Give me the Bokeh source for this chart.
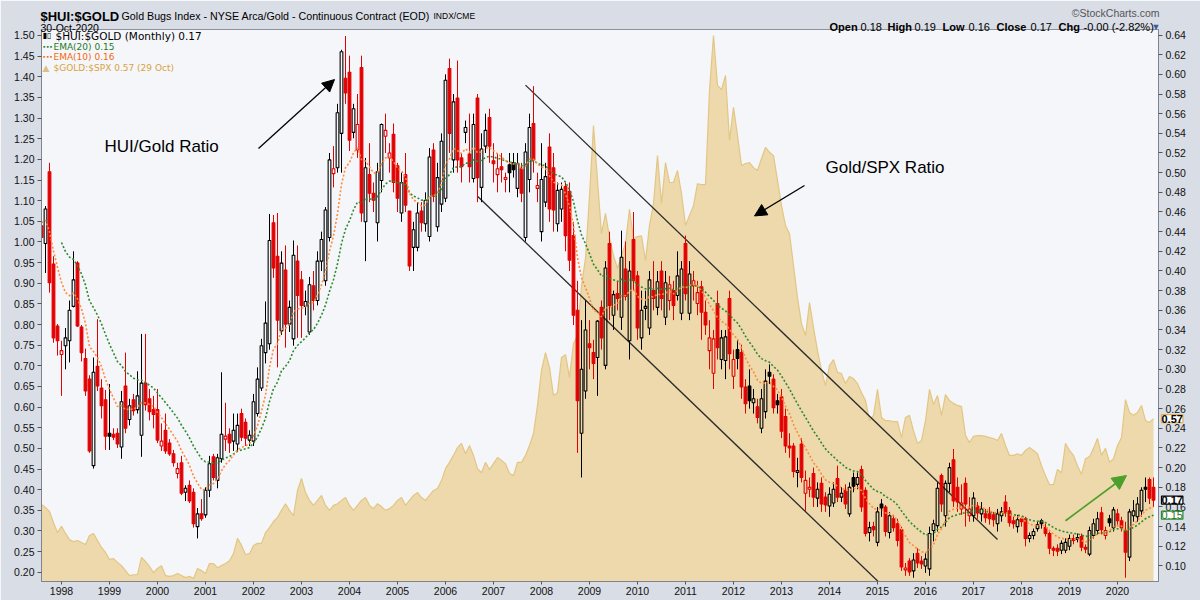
import pandas as pd
from bokeh.plotting import figure
from bokeh.models import (Range1d, LinearAxis, FixedTicker, PrintfTickFormatter, Label,
                          Arrow, NormalHead, ColumnDataSource)
from bokeh.embed import file_html
from bokeh.resources import INLINE

# ---------------- data (monthly, Aug 1997 .. Oct 2020) ----------------
first_month = "1997-08"
close_before_first = 0.450   # Jul 1997 close (estimated)

hui_open = [
    0.446, 0.428, 0.501, 0.407, 0.344,
    0.315, 0.324, 0.329, 0.364, 0.408, 0.343, 0.311, 0.290, 0.202, 0.303, 0.281, 0.269,
    0.235, 0.234, 0.235, 0.221, 0.283, 0.249, 0.269, 0.259, 0.233, 0.286, 0.270, 0.259,
    0.259, 0.222, 0.238, 0.225, 0.214, 0.194, 0.205, 0.175, 0.182, 0.175, 0.140, 0.153,
    0.152, 0.177, 0.211, 0.187, 0.209, 0.229, 0.234, 0.227, 0.224, 0.255, 0.246, 0.228,
    0.227, 0.255, 0.281, 0.317, 0.326, 0.449, 0.415, 0.339, 0.401, 0.346, 0.331, 0.410,
    0.391, 0.364, 0.338, 0.385, 0.370, 0.410, 0.390, 0.434, 0.499, 0.505, 0.540, 0.596,
    0.602, 0.541, 0.523, 0.607, 0.450, 0.498, 0.479, 0.449, 0.492, 0.537, 0.515, 0.539,
    0.507, 0.459, 0.498, 0.461, 0.424, 0.424, 0.461, 0.448, 0.435, 0.523, 0.445, 0.468,
    0.474, 0.606, 0.513, 0.576, 0.515, 0.541, 0.519, 0.494, 0.576, 0.485, 0.527, 0.556,
    0.512, 0.498, 0.506, 0.493, 0.508, 0.510, 0.484, 0.504, 0.434, 0.493, 0.550, 0.484,
    0.440, 0.470, 0.526, 0.505, 0.448, 0.463, 0.486, 0.481, 0.436, 0.360, 0.235, 0.278,
    0.326, 0.317, 0.312, 0.363, 0.304, 0.428, 0.355, 0.377, 0.353, 0.402, 0.329, 0.432,
    0.395, 0.332, 0.362, 0.342, 0.380, 0.363, 0.400, 0.353, 0.370, 0.380, 0.375, 0.357,
    0.428, 0.357, 0.385, 0.367, 0.384, 0.358, 0.319, 0.296, 0.367, 0.310, 0.309, 0.372,
    0.293, 0.320, 0.317, 0.282, 0.283, 0.266, 0.262, 0.240, 0.257, 0.297, 0.290, 0.268,
    0.272, 0.252, 0.222, 0.222, 0.195, 0.224, 0.174, 0.178, 0.194, 0.169, 0.184, 0.170,
    0.161, 0.164, 0.189, 0.170, 0.177, 0.153, 0.190, 0.183, 0.198, 0.177, 0.134, 0.140,
    0.124, 0.163, 0.160, 0.134, 0.148, 0.143, 0.137, 0.096, 0.105, 0.095, 0.113, 0.105,
    0.100, 0.097, 0.136, 0.141, 0.192, 0.151, 0.184, 0.208, 0.180, 0.158, 0.184, 0.151,
    0.151, 0.161, 0.153, 0.153, 0.153, 0.152, 0.143, 0.151, 0.165, 0.156, 0.146, 0.140,
    0.148, 0.148, 0.128, 0.131, 0.138, 0.146, 0.139, 0.133, 0.118, 0.118, 0.116, 0.116,
    0.120, 0.128, 0.127, 0.130, 0.119, 0.112, 0.131, 0.136, 0.154, 0.131, 0.148, 0.139,
    0.153, 0.146, 0.136, 0.109, 0.151, 0.150, 0.156, 0.180, 0.188, 0.180,
]
hui_high = [
    0.456, 0.466, 0.510, 0.415, 0.346,
    0.329, 0.342, 0.370, 0.420, 0.410, 0.345, 0.321, 0.294, 0.312, 0.351, 0.290, 0.279,
    0.285, 0.240, 0.240, 0.278, 0.317, 0.270, 0.275, 0.298, 0.336, 0.336, 0.280, 0.273,
    0.280, 0.245, 0.255, 0.229, 0.218, 0.205, 0.212, 0.182, 0.187, 0.179, 0.159, 0.168,
    0.180, 0.212, 0.214, 0.214, 0.297, 0.266, 0.240, 0.255, 0.255, 0.260, 0.250, 0.238,
    0.275, 0.302, 0.331, 0.369, 0.458, 0.457, 0.459, 0.420, 0.426, 0.370, 0.431, 0.426,
    0.400, 0.380, 0.394, 0.400, 0.420, 0.440, 0.465, 0.520, 0.527, 0.570, 0.625, 0.639,
    0.619, 0.570, 0.580, 0.619, 0.515, 0.530, 0.490, 0.510, 0.550, 0.560, 0.530, 0.550,
    0.510, 0.500, 0.520, 0.461, 0.450, 0.470, 0.470, 0.480, 0.525, 0.530, 0.510, 0.540,
    0.600, 0.616, 0.580, 0.614, 0.520, 0.553, 0.560, 0.560, 0.580, 0.540, 0.560, 0.565,
    0.530, 0.520, 0.520, 0.500, 0.520, 0.520, 0.520, 0.510, 0.530, 0.560, 0.588, 0.500,
    0.530, 0.510, 0.540, 0.520, 0.490, 0.490, 0.490, 0.490, 0.450, 0.390, 0.350, 0.370,
    0.350, 0.330, 0.350, 0.370, 0.410, 0.440, 0.380, 0.390, 0.441, 0.430, 0.410, 0.460,
    0.400, 0.380, 0.380, 0.400, 0.410, 0.400, 0.410, 0.400, 0.395, 0.390, 0.420, 0.410,
    0.436, 0.410, 0.400, 0.390, 0.390, 0.370, 0.350, 0.340, 0.380, 0.340, 0.340, 0.380,
    0.320, 0.330, 0.325, 0.290, 0.300, 0.280, 0.270, 0.280, 0.300, 0.305, 0.295, 0.275,
    0.280, 0.260, 0.235, 0.225, 0.210, 0.230, 0.197, 0.190, 0.200, 0.185, 0.190, 0.175,
    0.180, 0.185, 0.202, 0.180, 0.183, 0.185, 0.195, 0.195, 0.202, 0.180, 0.145, 0.145,
    0.160, 0.168, 0.162, 0.155, 0.152, 0.148, 0.140, 0.103, 0.108, 0.113, 0.118, 0.110,
    0.113, 0.140, 0.147, 0.185, 0.194, 0.187, 0.205, 0.219, 0.190, 0.183, 0.190, 0.170,
    0.175, 0.165, 0.165, 0.158, 0.160, 0.155, 0.158, 0.160, 0.172, 0.160, 0.150, 0.152,
    0.150, 0.150, 0.134, 0.138, 0.145, 0.148, 0.143, 0.135, 0.120, 0.122, 0.126, 0.128,
    0.132, 0.132, 0.133, 0.133, 0.122, 0.140, 0.148, 0.155, 0.160, 0.140, 0.152, 0.160,
    0.158, 0.150, 0.145, 0.158, 0.167, 0.170, 0.180, 0.190, 0.190, 0.190,
]
hui_low = [
    0.428, 0.398, 0.378, 0.327, 0.314,
    0.273, 0.300, 0.307, 0.363, 0.343, 0.308, 0.273, 0.215, 0.199, 0.278, 0.250, 0.218,
    0.218, 0.228, 0.220, 0.209, 0.235, 0.243, 0.253, 0.255, 0.211, 0.258, 0.248, 0.240,
    0.225, 0.217, 0.214, 0.212, 0.201, 0.189, 0.172, 0.166, 0.164, 0.139, 0.128, 0.146,
    0.149, 0.170, 0.187, 0.179, 0.205, 0.217, 0.215, 0.217, 0.217, 0.227, 0.222, 0.222,
    0.222, 0.252, 0.278, 0.306, 0.320, 0.393, 0.302, 0.335, 0.322, 0.338, 0.324, 0.332,
    0.332, 0.355, 0.335, 0.360, 0.365, 0.400, 0.385, 0.430, 0.485, 0.500, 0.500, 0.570,
    0.522, 0.535, 0.515, 0.450, 0.410, 0.470, 0.460, 0.430, 0.480, 0.520, 0.500, 0.480,
    0.460, 0.450, 0.460, 0.400, 0.400, 0.420, 0.440, 0.440, 0.430, 0.470, 0.440, 0.460,
    0.470, 0.520, 0.500, 0.500, 0.490, 0.530, 0.490, 0.490, 0.470, 0.470, 0.520, 0.510,
    0.490, 0.480, 0.490, 0.480, 0.480, 0.495, 0.475, 0.470, 0.430, 0.480, 0.500, 0.470,
    0.430, 0.465, 0.450, 0.440, 0.440, 0.450, 0.420, 0.400, 0.345, 0.215, 0.190, 0.270,
    0.300, 0.290, 0.273, 0.320, 0.300, 0.350, 0.340, 0.360, 0.340, 0.370, 0.310, 0.380,
    0.330, 0.320, 0.350, 0.335, 0.360, 0.355, 0.360, 0.345, 0.360, 0.350, 0.370, 0.350,
    0.370, 0.350, 0.370, 0.355, 0.330, 0.335, 0.300, 0.280, 0.310, 0.300, 0.290, 0.300,
    0.280, 0.300, 0.270, 0.255, 0.260, 0.255, 0.245, 0.235, 0.250, 0.285, 0.255, 0.255,
    0.230, 0.215, 0.210, 0.190, 0.180, 0.185, 0.156, 0.170, 0.160, 0.160, 0.155, 0.155,
    0.150, 0.160, 0.165, 0.165, 0.158, 0.150, 0.175, 0.178, 0.155, 0.130, 0.125, 0.130,
    0.120, 0.150, 0.130, 0.128, 0.135, 0.120, 0.095, 0.090, 0.090, 0.088, 0.098, 0.097,
    0.093, 0.090, 0.125, 0.135, 0.155, 0.140, 0.175, 0.160, 0.155, 0.152, 0.140, 0.145,
    0.145, 0.148, 0.145, 0.144, 0.142, 0.140, 0.135, 0.145, 0.150, 0.140, 0.138, 0.134,
    0.140, 0.120, 0.124, 0.127, 0.135, 0.138, 0.130, 0.112, 0.110, 0.110, 0.112, 0.113,
    0.116, 0.122, 0.124, 0.115, 0.113, 0.110, 0.128, 0.132, 0.132, 0.127, 0.140, 0.135,
    0.142, 0.135, 0.088, 0.105, 0.145, 0.145, 0.150, 0.165, 0.163, 0.160,
]
hui_close = [
    0.434, 0.463, 0.388, 0.332, 0.329,
    0.319, 0.332, 0.360, 0.391, 0.344, 0.317, 0.278, 0.217, 0.297, 0.283, 0.263, 0.232,
    0.232, 0.231, 0.224, 0.267, 0.240, 0.263, 0.258, 0.273, 0.286, 0.264, 0.257, 0.254,
    0.228, 0.227, 0.217, 0.214, 0.205, 0.199, 0.174, 0.179, 0.166, 0.143, 0.153, 0.148,
    0.177, 0.204, 0.190, 0.210, 0.234, 0.232, 0.225, 0.238, 0.243, 0.231, 0.230, 0.233,
    0.267, 0.290, 0.324, 0.347, 0.431, 0.403, 0.350, 0.408, 0.346, 0.363, 0.416, 0.375,
    0.365, 0.369, 0.386, 0.370, 0.410, 0.432, 0.462, 0.513, 0.504, 0.561, 0.623, 0.581,
    0.533, 0.565, 0.549, 0.459, 0.505, 0.479, 0.472, 0.501, 0.549, 0.543, 0.520, 0.490,
    0.474, 0.490, 0.467, 0.405, 0.442, 0.459, 0.449, 0.472, 0.516, 0.476, 0.495, 0.532,
    0.594, 0.540, 0.572, 0.513, 0.506, 0.546, 0.506, 0.549, 0.495, 0.524, 0.543, 0.527,
    0.509, 0.504, 0.503, 0.495, 0.500, 0.503, 0.509, 0.479, 0.521, 0.546, 0.513, 0.487,
    0.493, 0.496, 0.463, 0.462, 0.482, 0.483, 0.436, 0.411, 0.355, 0.268, 0.300, 0.340,
    0.322, 0.306, 0.349, 0.332, 0.403, 0.365, 0.376, 0.372, 0.414, 0.374, 0.400, 0.390,
    0.342, 0.360, 0.364, 0.391, 0.372, 0.389, 0.372, 0.388, 0.386, 0.365, 0.395, 0.402,
    0.377, 0.397, 0.390, 0.378, 0.358, 0.345, 0.332, 0.331, 0.322, 0.332, 0.333, 0.316,
    0.310, 0.311, 0.282, 0.265, 0.268, 0.270, 0.251, 0.270, 0.288, 0.293, 0.261, 0.264,
    0.237, 0.222, 0.220, 0.196, 0.197, 0.190, 0.187, 0.180, 0.170, 0.178, 0.163, 0.162,
    0.173, 0.178, 0.170, 0.174, 0.163, 0.180, 0.181, 0.190, 0.160, 0.133, 0.139, 0.137,
    0.155, 0.159, 0.135, 0.151, 0.139, 0.126, 0.099, 0.098, 0.094, 0.106, 0.103, 0.102,
    0.107, 0.133, 0.143, 0.179, 0.163, 0.184, 0.200, 0.166, 0.165, 0.164, 0.163, 0.158,
    0.169, 0.154, 0.158, 0.149, 0.148, 0.147, 0.153, 0.155, 0.154, 0.144, 0.143, 0.147,
    0.145, 0.128, 0.131, 0.135, 0.142, 0.143, 0.133, 0.118, 0.116, 0.115, 0.123, 0.124,
    0.128, 0.126, 0.129, 0.119, 0.117, 0.136, 0.143, 0.148, 0.137, 0.136, 0.144, 0.157,
    0.146, 0.139, 0.114, 0.155, 0.156, 0.163, 0.177, 0.178, 0.169, 0.167,
]
gold_spx = [
    0.364, 0.357, 0.347, 0.320, 0.296,
    0.311, 0.294, 0.279, 0.274, 0.277, 0.272, 0.267, 0.289, 0.294, 0.277, 0.260, 0.248,
    0.231, 0.233, 0.224, 0.216, 0.204, 0.192, 0.194, 0.194, 0.236, 0.226, 0.214, 0.199,
    0.209, 0.216, 0.192, 0.190, 0.192, 0.197, 0.192, 0.187, 0.190, 0.185, 0.209, 0.204,
    0.197, 0.221, 0.221, 0.211, 0.216, 0.221, 0.228, 0.245, 0.282, 0.265, 0.243, 0.245,
    0.265, 0.270, 0.270, 0.296, 0.308, 0.323, 0.333, 0.350, 0.366, 0.350, 0.337, 0.398,
    0.427, 0.393, 0.374, 0.362, 0.374, 0.386, 0.362, 0.350, 0.362, 0.366, 0.374, 0.381,
    0.362, 0.350, 0.362, 0.374, 0.381, 0.362, 0.354, 0.366, 0.359, 0.350, 0.354, 0.362,
    0.374, 0.381, 0.362, 0.374, 0.386, 0.393, 0.381, 0.374, 0.386, 0.398, 0.403, 0.422,
    0.451, 0.466, 0.483, 0.502, 0.512, 0.487, 0.507, 0.483, 0.451, 0.441, 0.466, 0.449,
    0.463, 0.478, 0.471, 0.463, 0.439, 0.434, 0.466, 0.466, 0.483, 0.507, 0.536, 0.604,
    0.689, 0.732, 0.696, 0.628, 0.635, 0.720, 0.727, 0.672, 0.754, 0.773, 0.894, 0.960,
    1.112, 1.282, 1.149, 1.020, 1.069, 1.011, 0.967, 0.936, 0.967, 0.996, 1.079, 1.008,
    1.013, 1.015, 0.955, 1.040, 1.093, 1.209, 1.093, 1.192, 1.144, 1.144, 1.173, 1.117,
    1.040, 1.064, 1.088, 1.141, 1.139, 1.139, 1.367, 1.500, 1.379, 1.369, 1.403, 1.246,
    1.326, 1.258, 1.185, 1.190, 1.192, 1.180, 1.173, 1.202, 1.229, 1.217, 1.209, 1.149,
    1.088, 1.040, 1.020, 0.943, 0.865, 0.802, 0.773, 0.853, 0.793, 0.737, 0.689, 0.652,
    0.701, 0.715, 0.684, 0.681, 0.657, 0.674, 0.669, 0.657, 0.635, 0.616, 0.567, 0.580,
    0.643, 0.575, 0.567, 0.567, 0.565, 0.565, 0.526, 0.575, 0.580, 0.543, 0.512, 0.519,
    0.567, 0.643, 0.606, 0.628, 0.580, 0.630, 0.616, 0.609, 0.604, 0.601, 0.531, 0.514,
    0.529, 0.531, 0.531, 0.529, 0.526, 0.524, 0.519, 0.536, 0.507, 0.483, 0.483, 0.487,
    0.483, 0.495, 0.502, 0.495, 0.487, 0.458, 0.434, 0.412, 0.412, 0.449, 0.441, 0.512,
    0.495, 0.483, 0.458, 0.437, 0.475, 0.480, 0.500, 0.524, 0.483, 0.500, 0.466, 0.475,
    0.507, 0.526, 0.618, 0.587, 0.580, 0.587, 0.604, 0.567, 0.563, 0.572,
]
ema20_start_month, ema20_start_value = "1998-01", 0.429
ema10_start_month, ema10_start_value = "1997-08", 0.449

year_labels = ["1998", "1999", "2000", "2001", "2002", "2003", "2004", "2005", "2006", "2007",
               "2008", "2009", "2010", "2011", "2012", "2013", "2014", "2015", "2016", "2017",
               "2018", "2019", "2020"]
left_ticks = [0.20, 0.25, 0.30, 0.35, 0.40, 0.45, 0.50, 0.55, 0.60, 0.65, 0.70, 0.75, 0.80, 0.85,
              0.90, 0.95, 1.00, 1.05, 1.10, 1.15, 1.20, 1.25, 1.30, 1.35, 1.40, 1.45, 1.50]
right_ticks = [0.10, 0.12, 0.14, 0.16, 0.18, 0.20, 0.22, 0.24, 0.26, 0.28, 0.30, 0.32, 0.34, 0.36,
               0.38, 0.40, 0.42, 0.44, 0.46, 0.48, 0.50, 0.52, 0.54, 0.56, 0.58, 0.60, 0.62, 0.64]

# channel lines (month, HUI:GOLD value)
channel_upper = [("2007-09", 0.589), ("2017-07", 0.127)]
channel_lower = [("2006-09", 0.476), ("2015-03", 0.077)]

# ---------------- helpers ----------------
def mpos(label):
    per = pd.Period(label, freq="M")
    return (per.year - 1998) * 12 + (per.month - 1)

months = pd.period_range(first_month, periods=len(hui_close), freq="M")
x = [(m.year - 1998) * 12 + (m.month - 1) for m in months]

RED, BLACK = "#E30000", "#000000"
colors, fills, tops, bots = [], [], [], []
prev = close_before_first
for o, c in zip(hui_open, hui_close):
    colors.append(RED if c < prev else BLACK)
    fills.append(1.0 if c < o else 0.0)
    tops.append(max(o, c))
    bots.append(min(o, c))
    prev = c

src = ColumnDataSource(dict(x=x, o=hui_open, h=hui_high, l=hui_low, c=hui_close,
                            top=tops, bot=bots, col=colors, fa=fills))

def ema(vals, n, seed):
    a = 2.0 / (n + 1)
    out = [seed]
    for v in vals[1:]:
        out.append(out[-1] + a * (v - out[-1]))
    return out

s20 = x.index(mpos(ema20_start_month))
s10 = x.index(mpos(ema10_start_month))
ema20 = ema(hui_close[s20:], 20, ema20_start_value)
ema10 = ema(hui_close[s10:], 10, ema10_start_value)

BG_OUT = "#D9DDE6"

# ---------------- main figure ----------------
LEFT, TOP = 41, 29
FW, FH = 1117, 552
XR = Range1d(-5, 274.25)
YR = Range1d(0.0842, 0.6456)
p = figure(frame_width=FW, frame_height=FH, output_backend="svg", toolbar_location=None,
           x_range=XR, y_range=YR, y_axis_location="right",
           min_border_left=LEFT, min_border_right=42, min_border_top=TOP, min_border_bottom=19,
           background_fill_color="#F5F6FA", border_fill_color=BG_OUT,
           outline_line_color="#8C919B")
p.extra_y_ranges = {"gs": Range1d(0.1776, 1.5145)}
p.grid.visible = False
right_ax = p.yaxis[0]

# gold/spx area
p.varea(x=x, y1=[0.0] * len(x), y2=gold_spx, y_range_name="gs",
        fill_color="#EDD9AB", fill_alpha=1.0)
p.line(x=x, y=gold_spx, y_range_name="gs", line_color="#E3C684", line_width=1.2)

# channel lines
for seg in (channel_upper, channel_lower):
    p.line(x=[mpos(seg[0][0]), mpos(seg[1][0])], y=[seg[0][1], seg[1][1]],
           line_color="#2B2B2B", line_width=1.3)

# candles
p.segment(x0="x", y0="h", x1="x", y1="top", color="col", line_width=1, source=src)
p.segment(x0="x", y0="bot", x1="x", y1="l", color="col", line_width=1, source=src)
p.vbar(x="x", top="top", bottom="bot", width=0.68, fill_color="col", fill_alpha="fa",
       line_color="col", line_width=1.1, source=src)

# EMAs
p.line(x=x[s20:], y=ema20, line_color="#2F8A2F", line_width=1.6, line_dash="2 2")
p.line(x=x[s10:], y=ema10, line_color="#FF8A3A", line_width=1.6, line_dash="2 2")

# axes
right_ax.ticker = FixedTicker(ticks=right_ticks)
left_ax = LinearAxis(y_range_name="gs", ticker=FixedTicker(ticks=left_ticks))
p.add_layout(left_ax, "left")
for ax in (right_ax, left_ax):
    ax.formatter = PrintfTickFormatter(format="%.2f")
for ax in [right_ax, left_ax] + list(p.xaxis):
    ax.major_label_text_font = "Liberation Sans"
    ax.major_label_text_font_size = "10.5px"
    ax.major_label_text_color = "#111111"
    ax.axis_line_color = "#7E838D"
    ax.major_tick_line_color = "#555555"
    ax.major_tick_in = 0
    ax.major_tick_out = 4
    ax.minor_tick_in = 0
    ax.minor_tick_out = 0
    ax.major_label_standoff = 3
p.xaxis.ticker = FixedTicker(ticks=[mpos(y + "-01") for y in year_labels])
p.xaxis.major_label_overrides = {mpos(y + "-01"): y for y in year_labels}
p.xaxis.major_tick_out = 3
p.xaxis.major_label_standoff = 2

# annotations inside chart
p.add_layout(Label(x=mpos("1998-12") - 0.25, y=0.5265, text="HUI/Gold Ratio",
                   text_font="Liberation Sans", text_font_size="17px", text_baseline="middle",
                   text_color="#000000"))
p.add_layout(Label(x=mpos("2013-12"), y=0.505, text="Gold/SPX Ratio",
                   text_font="Liberation Sans", text_font_size="17px", text_baseline="middle",
                   text_color="#000000"))
p.add_layout(Arrow(end=NormalHead(size=12, fill_color="black", line_color="black"),
                   x_start=mpos("2002-02") + 0.25, y_start=0.5245,
                   x_end=mpos("2003-09") + 0.25, y_end=0.5947,
                   line_color="black", line_width=1.3))
p.add_layout(Arrow(end=NormalHead(size=12, fill_color="black", line_color="black"),
                   x_start=mpos("2013-07") - 0.25, y_start=0.487,
                   x_end=mpos("2012-06") + 0.25, y_end=0.456,
                   line_color="black", line_width=1.3))
p.add_layout(Arrow(end=NormalHead(size=14, fill_color="#4C9F2A", line_color="#4C9F2A"),
                   x_start=mpos("2018-12"), y_start=0.146,
                   x_end=mpos("2020-03") + 0.25, y_end=0.192,
                   line_color="#4C9F2A", line_width=1.6))

# value markers on the right axis strip (placed in the right side panel)
def marker(val, rng, text_color, border, bold):
    kw = dict(x=275, y=val, text="%.2f" % val,
              text_font="Liberation Sans", text_font_size="11px",
              text_font_style="bold" if bold else "normal", text_baseline="middle",
              text_color=text_color, background_fill_color="#FFFFFF",
              border_line_color=border, border_line_width=1.2)
    if rng:
        kw["y_range_name"] = rng
    p.add_layout(Label(**kw), "right")

marker(gold_spx[-1], "gs", "#000000", "#E0B050", True)
marker(ema20[-1], None, "#1F7A1F", "#2F8A2F", False)
marker(hui_close[-1], None, "#000000", "#000000", True)

# ---- header (labels kept in the right side panel so they are not clipped;
#      page pixel -> plot coordinates) ----
def hx(px):
    return XR.start + (px - LEFT) * (XR.end - XR.start) / FW

def hy(py):
    return YR.end + (TOP - py) * (YR.end - YR.start) / FH

def ht(text, px, py, size="11px", style="normal", color="#000000", align="left"):
    p.add_layout(Label(x=hx(px), y=hy(py), text=text, text_font="Liberation Sans",
                       text_font_size=size, text_font_style=style, text_color=color,
                       text_align=align, text_baseline="alphabetic"), "right")

ht("$HUI:$GOLD", 40, 15.5, size="13px", style="bold")
ht("Gold Bugs Index - NYSE Arca/Gold - Continuous Contract (EOD)", 121, 15, size="10.7px")
ht("INDX/CME", 433, 15, size="8.5px")
ht("30-Oct-2020", 40, 27, size="10.5px")
ht("\u00a9StockCharts.com", 1159, 12.5, size="10.5px", color="#555555", align="right")
ohlc_items = [("Open", 829, "bold"), ("%.2f" % hui_open[-1], 860, "normal"),
              ("High", 887, "bold"), ("%.2f" % hui_high[-1], 914, "normal"),
              ("Low", 942, "bold"), ("%.2f" % hui_low[-1], 968, "normal"),
              ("Close", 996, "bold"), ("%.2f" % hui_close[-1], 1030, "normal"),
              ("Chg", 1058, "bold"), ("-0.00 (-2.82%)", 1083, "normal")]
for t, px, st in ohlc_items:
    ht(t, px, 26.5, style=st)
ht("\u25bc", 1151, 26, size="9px", color="#3A5A9A")

# ---- legend (screen units, relative to frame) ----
def sl(text, px, py, size="9px", color="#000000", style="normal"):
    p.add_layout(Label(x=px - LEFT, y=(TOP + FH) - py, x_units="screen", y_units="screen",
                       text=text, text_font="DejaVu Sans", text_font_size=size,
                       text_font_style=style, text_color=color, text_align="left",
                       text_baseline="middle"))

sl("\u25ae\u25af", 42, 35, size="8px")
sl("$HUI:$GOLD (Monthly) %.2f" % hui_close[-1], 55, 35, size="10.5px")
sl("\u2219\u2219\u2219", 42, 46, color="#1F7A1F", style="bold")
sl("EMA(20) %.2f" % ema20[-1], 53, 46, color="#1F7A1F")
sl("\u2219\u2219\u2219", 42, 56.5, color="#F26A10", style="bold")
sl("EMA(10) %.2f" % ema10[-1], 53, 56.5, color="#F26A10")
sl("\u25b2", 42, 67.5, color="#DCC084")
sl("$GOLD:$SPX %.2f (29 Oct)" % gold_spx[-1], 53, 67.5, color="#D9A23C")

open("out.html", "w").write(file_html(p, INLINE))
